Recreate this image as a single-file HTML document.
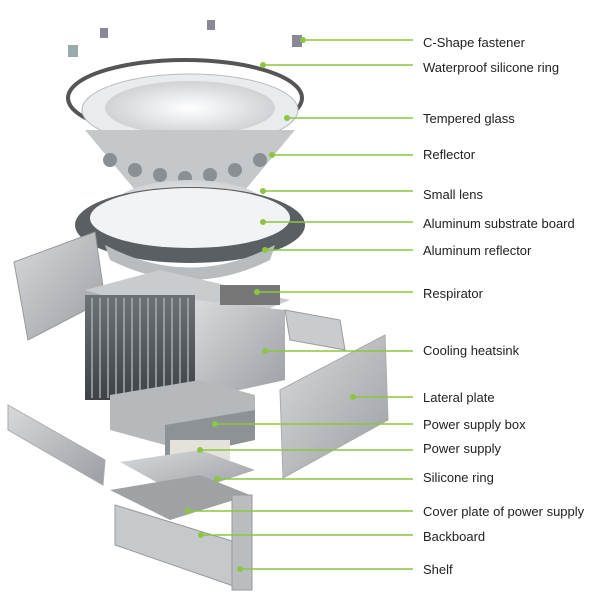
<!DOCTYPE html>
<html><head><style>
html,body{margin:0;padding:0;background:#fff;}
svg{display:block;}
text{font-family:"Liberation Sans",sans-serif;font-size:13px;fill:#222;}
</style></head><body>
<svg width="600" height="600" viewBox="0 0 600 600" xmlns="http://www.w3.org/2000/svg">
<defs>
<linearGradient id="m" x1="0" y1="0" x2="1" y2="1"><stop offset="0" stop-color="#d8dadc"/><stop offset="1" stop-color="#9a9ea2"/></linearGradient>
<linearGradient id="d" x1="0" y1="0" x2="0" y2="1"><stop offset="0" stop-color="#6d7276"/><stop offset="1" stop-color="#3e4246"/></linearGradient>
<radialGradient id="w" cx="0.5" cy="0.5" r="0.5"><stop offset="0" stop-color="#fff"/><stop offset="1" stop-color="#cfd3d6"/></radialGradient>
</defs>
<!-- fasteners -->
<rect x="68" y="45" width="10" height="12" fill="#9aa"/>
<rect x="100" y="28" width="8" height="10" fill="#889"/>
<rect x="207" y="20" width="8" height="10" fill="#889"/>
<rect x="292" y="35" width="10" height="12" fill="#889"/>
<!-- silicone ring -->
<ellipse cx="185" cy="98" rx="117" ry="38" fill="none" stroke="#555" stroke-width="4"/>
<!-- tempered glass -->
<ellipse cx="190" cy="110" rx="108" ry="36" fill="#e9ecee" stroke="#bbb"/>
<ellipse cx="190" cy="108" rx="85" ry="27" fill="url(#w)"/>
<!-- reflectors -->
<path d="M85 130 L295 130 L245 190 L135 190 Z" fill="#c4c8cb"/>
<g fill="#8a8f93">
<circle cx="110" cy="160" r="7"/><circle cx="135" cy="170" r="7"/><circle cx="160" cy="175" r="7"/><circle cx="185" cy="178" r="7"/><circle cx="210" cy="175" r="7"/><circle cx="235" cy="170" r="7"/><circle cx="260" cy="160" r="7"/>
</g>
<!-- lens + substrate -->
<ellipse cx="190" cy="210" rx="80" ry="30" fill="url(#w)"/>
<!-- aluminum reflector -->
<ellipse cx="190" cy="225" rx="115" ry="38" fill="#5a5f63"/>
<ellipse cx="190" cy="218" rx="100" ry="30" fill="#f2f3f4"/>
<path d="M105 245 Q190 290 275 245 L270 260 Q190 300 110 260 Z" fill="#b8bcbf"/>
<!-- left lateral plate -->
<path d="M14 262 L95 232 L105 300 L28 340 Z" fill="url(#m)" stroke="#999"/>
<!-- heatsink -->
<path d="M85 290 L160 270 L290 300 L215 330 Z" fill="#c8ccce"/>
<rect x="85" y="295" width="110" height="105" fill="url(#d)"/>
<g stroke="#a8adb0" stroke-width="1.5">
<line x1="92" y1="298" x2="92" y2="398"/><line x1="100" y1="298" x2="100" y2="398"/><line x1="108" y1="298" x2="108" y2="398"/><line x1="116" y1="298" x2="116" y2="398"/><line x1="124" y1="298" x2="124" y2="398"/><line x1="132" y1="298" x2="132" y2="398"/><line x1="140" y1="298" x2="140" y2="398"/><line x1="148" y1="298" x2="148" y2="398"/><line x1="156" y1="298" x2="156" y2="398"/><line x1="164" y1="298" x2="164" y2="398"/><line x1="172" y1="298" x2="172" y2="398"/><line x1="180" y1="298" x2="180" y2="398"/><line x1="188" y1="298" x2="188" y2="398"/>
</g>
<path d="M195 300 L285 310 L285 380 L195 400 Z" fill="url(#m)"/>
<rect x="220" y="285" width="60" height="20" fill="#777"/>
<!-- right respirator piece -->
<path d="M285 310 L340 320 L345 350 L290 340 Z" fill="#c9cccf" stroke="#999"/>
<!-- right lateral plate -->
<path d="M280 390 L385 335 L388 420 L283 478 Z" fill="url(#m)" stroke="#aaa"/>
<!-- power supply box -->
<path d="M110 395 L200 380 L255 395 L255 420 L165 445 L110 430 Z" fill="#b5b9bc"/>
<path d="M165 425 L255 410 L255 440 L165 460 Z" fill="#8d9296"/>
<!-- power supply -->
<rect x="170" y="440" width="60" height="20" fill="#e5e2dc"/>
<!-- silicone ring -->
<path d="M120 462 L200 450 L255 470 L180 495 Z" fill="url(#m)"/>
<!-- cover plate -->
<path d="M110 490 L200 475 L250 495 L170 520 Z" fill="#9ea2a5"/>
<!-- left small plate -->
<path d="M8 405 L105 460 L103 485 L8 430 Z" fill="url(#m)" stroke="#aaa"/>
<!-- backboard / shelf -->
<path d="M115 505 L245 545 L245 590 L115 545 Z" fill="#c6c9cc" stroke="#999"/>
<rect x="232" y="495" width="20" height="95" fill="#b9bdc0" stroke="#999"/>
<!-- leader lines -->
<g stroke="#8cc63f" stroke-width="1.5">
<line x1="303" y1="40" x2="413" y2="40"/>
<line x1="263" y1="65" x2="413" y2="65"/>
<line x1="287" y1="118" x2="413" y2="118"/>
<line x1="272" y1="155" x2="413" y2="155"/>
<line x1="263" y1="191" x2="413" y2="191"/>
<line x1="263" y1="222" x2="413" y2="222"/>
<line x1="265" y1="250" x2="413" y2="250"/>
<line x1="257" y1="292" x2="413" y2="292"/>
<line x1="265" y1="351" x2="413" y2="351"/>
<line x1="353" y1="397" x2="413" y2="397"/>
<line x1="215" y1="424" x2="413" y2="424"/>
<line x1="200" y1="450" x2="413" y2="450"/>
<line x1="217" y1="479" x2="413" y2="479"/>
<line x1="188" y1="511" x2="413" y2="511"/>
<line x1="201" y1="535" x2="413" y2="535"/>
<line x1="240" y1="569" x2="413" y2="569"/>
</g>
<g fill="#8cc63f">
<circle cx="303" cy="40" r="3"/><circle cx="263" cy="65" r="3"/><circle cx="287" cy="118" r="3"/><circle cx="272" cy="155" r="3"/><circle cx="263" cy="191" r="3"/><circle cx="263" cy="222" r="3"/><circle cx="265" cy="250" r="3"/><circle cx="257" cy="292" r="3"/><circle cx="265" cy="351" r="3"/><circle cx="353" cy="397" r="3"/><circle cx="215" cy="424" r="3"/><circle cx="200" cy="450" r="3"/><circle cx="217" cy="479" r="3"/><circle cx="188" cy="511" r="3"/><circle cx="201" cy="535" r="3"/><circle cx="240" cy="569" r="3"/>
</g>
<g>
<text x="423" y="47">C-Shape fastener</text>
<text x="423" y="72">Waterproof silicone ring</text>
<text x="423" y="123">Tempered glass</text>
<text x="423" y="159">Reflector</text>
<text x="423" y="199">Small lens</text>
<text x="423" y="228">Aluminum substrate board</text>
<text x="423" y="255">Aluminum reflector</text>
<text x="423" y="298">Respirator</text>
<text x="423" y="355">Cooling heatsink</text>
<text x="423" y="402">Lateral plate</text>
<text x="423" y="429">Power supply box</text>
<text x="423" y="453">Power supply</text>
<text x="423" y="482">Silicone ring</text>
<text x="423" y="516">Cover plate of power supply</text>
<text x="423" y="541">Backboard</text>
<text x="423" y="574">Shelf</text>
</g>
</svg>
</body></html>
